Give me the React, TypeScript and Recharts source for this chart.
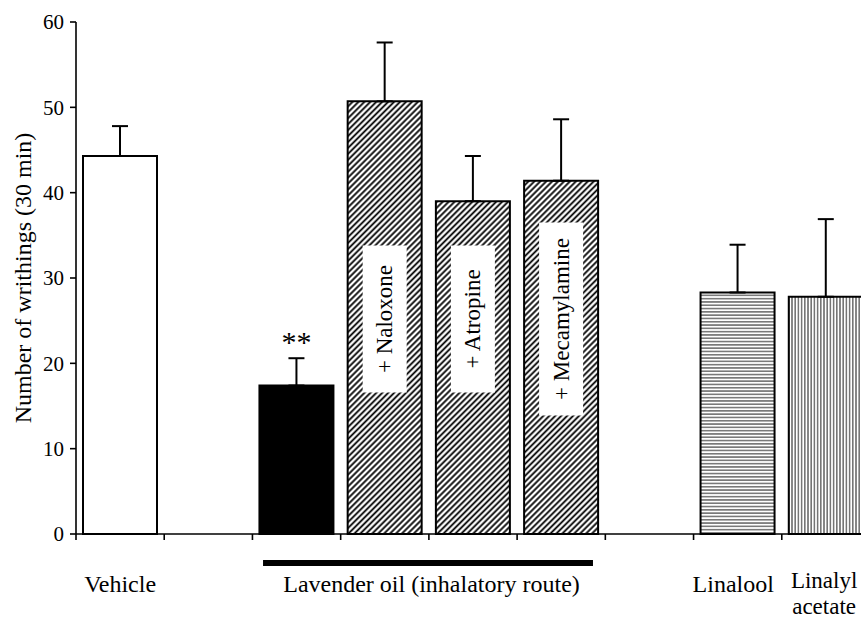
import React from 'react';
import { BarChart, Bar, XAxis, YAxis, ErrorBar, Cell, LabelList, ReferenceLine } from 'recharts';

// ---- data ----
const categories = ['Vehicle', 'Lavender oil', '+ Naloxone', '+ Atropine', '+ Mecamylamine', 'Linalool', 'Linalyl acetate'];
const slots = [0.5, 2.5, 3.5, 4.5, 5.5, 7.5, 8.5];
const means = [44.3, 17.4, 50.7, 39.0, 41.4, 28.3, 27.8];
const sems = [3.5, 3.2, 6.9, 5.3, 7.2, 5.6, 9.1];
const fills = ['#ffffff', '#000000', 'url(#diag)', 'url(#diag)', 'url(#diag)', 'url(#hstripe)', 'url(#vstripe)'];
const innerLabels = ['', '', '+ Naloxone', '+ Atropine', '+ Mecamylamine', '', ''];
const significance = ['', '**', '', '', '', '', ''];
const yTicks = [0, 10, 20, 30, 40, 50, 60];
const slotBoundaries = [0, 1, 2, 3, 4, 5, 6, 7, 8, 9];
const groupPositions = [0.5, 4.03, 7.45, 8.48];
const groupTexts = [['Vehicle'], ['Lavender oil (inhalatory route)'], ['Linalool'], ['Linalyl', 'acetate']];
const lavenderSpan = [2.12, 5.86];
const spanLevel = -3.4;

const data = categories.map((name, i) => ({
  name,
  x: slots[i],
  mean: means[i],
  sem: sems[i],
  err: [0, sems[i]],
  inner: innerLabels[i],
  sig: significance[i],
}));

const FONT = '"Liberation Serif", "Times New Roman", Times, serif';

const InnerLabel = (props: any) => {
  const { x, y, width, height, value } = props;
  if (!value) return null;
  const cx = Number(x) + Number(width) / 2;
  const bottom = Number(y) + Number(height);
  const cy = bottom - 215;
  const len = String(value).length * 11.5 + 32;
  return (
    <g>
      <rect x={cx - 22} y={cy - len / 2} width={44} height={len} fill="#fff" />
      <text
        x={cx}
        y={cy}
        transform={`rotate(-90 ${cx} ${cy})`}
        textAnchor="middle"
        dominantBaseline="central"
        fontSize={23}
        fill="#000"
      >
        {value}
      </text>
    </g>
  );
};

const SigLabel = (props: any) => {
  const { x, y, width, height, value, index } = props;
  if (!value) return null;
  const d = data[index];
  const ppu = Number(height) / d.mean;
  const capY = Number(y) - d.sem * ppu;
  return (
    <text x={Number(x) + Number(width) / 2} y={capY - 6} textAnchor="middle" fontSize={30} fill="#000">
      {value}
    </text>
  );
};

const GroupTick = (props: any) => {
  const { x, y, payload } = props;
  const idx = groupPositions.indexOf(payload.value);
  const lines = idx >= 0 ? groupTexts[idx] : [];
  const multi = lines.length > 1;
  return (
    <g>
      {lines.map((l, i) => (
        <text
          key={i}
          x={x}
          y={Number(y) + (multi ? 44 + i * 26 : 48)}
          textAnchor="middle"
          fontSize={multi ? 23 : 24}
          fill="#000"
        >
          {l}
        </text>
      ))}
    </g>
  );
};

const EmptyTick = () => <g />;

export default function App() {
  return (
    <div style={{ position: 'absolute', left: 0, top: 0, width: 861, height: 621, overflow: 'hidden', background: '#fff' }}>
      <style>{`svg text, svg tspan { font-family: ${FONT} !important; }`}</style>
      <svg width={0} height={0} style={{ position: 'absolute' }}>
        <defs>
          <pattern id="diag" patternUnits="userSpaceOnUse" width={4.2} height={4.2} patternTransform="rotate(45)">
            <rect width={4.2} height={4.2} fill="#fff" />
            <line x1={2.1} y1={0} x2={2.1} y2={4.2} stroke="#000" strokeWidth={1.8} />
          </pattern>
          <pattern id="hstripe" patternUnits="userSpaceOnUse" width={6} height={3.3}>
            <rect width={6} height={3.3} fill="#fff" />
            <line x1={0} y1={1.65} x2={6} y2={1.65} stroke="#222" strokeWidth={1} />
          </pattern>
          <pattern id="vstripe" patternUnits="userSpaceOnUse" width={3.2} height={6}>
            <rect width={3.2} height={6} fill="#fff" />
            <line x1={1.6} y1={0} x2={1.6} y2={6} stroke="#222" strokeWidth={1} />
          </pattern>
        </defs>
      </svg>
      <BarChart width={880} height={621} data={data} margin={{ top: 22, right: 10, bottom: 0, left: 0 }}>
        <XAxis
          dataKey="x"
          type="number"
          domain={[0, 9]}
          allowDataOverflow
          ticks={slotBoundaries}
          interval={0}
          height={10}
          tick={EmptyTick}
          tickSize={6}
          axisLine={{ stroke: '#000', strokeWidth: 1.6 }}
          tickLine={{ stroke: '#000', strokeWidth: 1.6 }}
        />
        <XAxis
          xAxisId="lab"
          dataKey="x"
          type="number"
          domain={[0, 9]}
          allowDataOverflow
          ticks={groupPositions}
          interval={0}
          height={77}
          axisLine={false}
          tickLine={false}
          tickSize={0}
          tickMargin={0}
          tick={GroupTick}
        />
        <YAxis
          type="number"
          domain={[0, 60]}
          ticks={yTicks}
          interval={0}
          width={76}
          tickSize={6}
          tickMargin={6}
          axisLine={{ stroke: '#000', strokeWidth: 1.6 }}
          tickLine={{ stroke: '#000', strokeWidth: 1.6 }}
          tick={{ fill: '#000', fontSize: 21 }}
          label={{
            value: 'Number of writhings (30 min)',
            angle: -90,
            position: 'insideLeft',
            offset: 22,
            fill: '#000',
            fontSize: 24,
            style: { textAnchor: 'middle' },
          }}
        />
        <ReferenceLine
          segment={[
            { x: lavenderSpan[0], y: spanLevel },
            { x: lavenderSpan[1], y: spanLevel },
          ]}
          ifOverflow="visible"
          stroke="#000"
          strokeWidth={6}
        />
        <Bar dataKey="mean" barSize={74} stroke="#000" strokeWidth={2} isAnimationActive={false}>
          {data.map((d, i) => (
            <Cell key={d.name} fill={fills[i]} />
          ))}
          <ErrorBar dataKey="err" direction="y" width={8} stroke="#000" strokeWidth={2} isAnimationActive={false} />
          <LabelList dataKey="inner" content={InnerLabel} />
          <LabelList dataKey="sig" content={SigLabel} />
        </Bar>
      </BarChart>
    </div>
  );
}
